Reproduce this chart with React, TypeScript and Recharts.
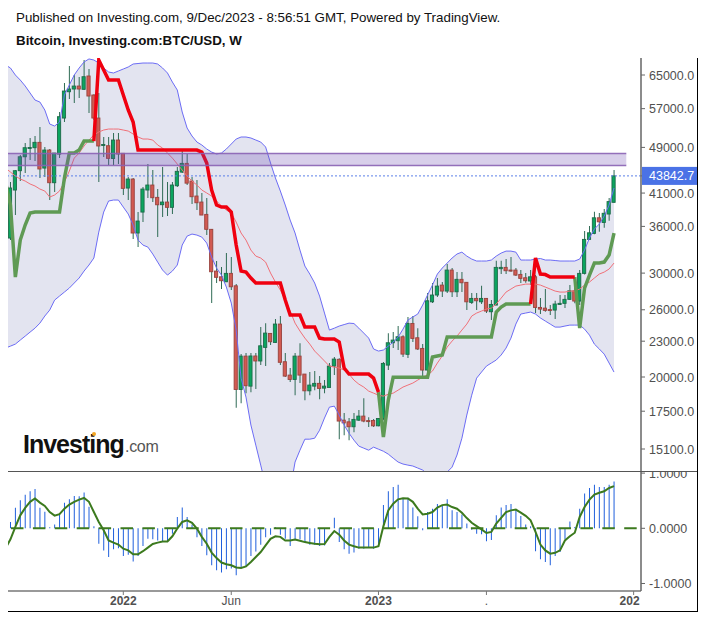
import React from 'react';
import { ComposedChart, Area, Bar, Line, XAxis, YAxis, ReferenceArea, ReferenceLine } from 'recharts';

const N = null;

// weekly BTC/USD candles
const opens = [
  34400, 41490, 44740, 47240, 48790, 48940, 49980, 45200, 48500, 42690,
  47740, 54950, 60890, 61540, 62260, 61470, 64750, 60120, 54950, 49370,
  49320, 46920, 50430, 47880, 41810, 43310, 35080, 38070, 41490, 42310,
  40320, 39180, 39590, 38780, 42190, 44500, 46040, 42970, 40530, 39590,
  37730, 35590, 30240, 29570, 29000, 29970, 28550, 19050, 21700, 19300,
  21710, 21290, 22450, 23710, 22890, 24590, 21230, 20150, 19810, 21700,
  20230, 18950, 19300, 19510, 19150, 19200, 20870, 21430, 16900, 16790,
  16470, 16900, 17170, 16870, 16880, 16530, 17010, 20950, 22860, 23040,
  23400, 21850, 24650, 23310, 22360, 20550, 26820, 27540, 28630, 27970,
  30360, 27890, 29280, 28940, 26760, 27180, 26820, 27180, 25800, 26480,
  30520, 30680, 30360, 30360, 29850, 29460, 29090, 29570, 26240, 26170,
  26020, 25970, 26550, 26660, 27080, 28000, 26900, 29970, 34220, 35030,
  37230, 36560, 37780, 39550,
];
const closes = [
  41820, 44740, 47240, 48940, 48980, 49980, 45040, 48500, 42690, 47930,
  55240, 61060, 61540, 62260, 61540, 64570, 59880, 54950, 49270, 49560,
  46950, 50430, 47750, 41760, 43310, 35080, 36760, 41650, 42310, 40260,
  39170, 39590, 38780, 42310, 44630, 46040, 42620, 40420, 39480, 37630,
  35590, 30160, 29510, 29120, 29970, 28440, 19050, 21700, 19330, 21710,
  21290, 22590, 23740, 22950, 24590, 21180, 20070, 19810, 21700, 20150,
  18950, 19380, 19510, 19130, 19300, 20870, 21450, 16840, 16720, 16470,
  16950, 17170, 16840, 16810, 16530, 17010, 21090, 22860, 23100, 23400,
  21870, 24650, 23250, 22310, 20550, 26930, 27540, 28520, 27970, 30360,
  27890, 29280, 28890, 26820, 27180, 26930, 27180, 25870, 26550, 30680,
  30680, 30280, 30240, 29770, 29390, 29120, 29570, 26240, 26070, 25940,
  25920, 26590, 26660, 27080, 28000, 26900, 29970, 34220, 35110, 37230,
  36650, 37890, 39660, 43842.7,
];
const highs = [
  42800, 44860, 47560, 49850, 50830, 51230, 53060, 49080, 48690, 47930,
  56250, 63000, 67320, 65000, 64490, 68920, 66540, 60300, 60590, 51030,
  51020, 51830, 51830, 47930, 43650, 43480, 38070, 41980, 45920, 44860,
  41650, 45390, 42810, 42810, 45390, 48310, 47750, 43650, 43140, 41010,
  40210, 35630, 31450, 30720, 32440, 31940, 28740, 21870, 21960, 21960,
  21960, 24300, 24680, 23740, 25080, 25370, 21960, 20710, 21960, 22820,
  20230, 20390, 20470, 20070, 19760, 21120, 21620, 21520, 17380, 17040,
  17380, 17580, 18410, 17100, 16970, 17050, 21200, 23730, 23830, 24400,
  23550, 25270, 25370, 24200, 22740, 27750, 28860, 29430, 28970, 31080,
  30600, 30120, 30120, 28970, 27750, 27750, 28550, 27210, 27000, 31480,
  31480, 31690, 31940, 30600, 30360, 30010, 30360, 29770, 27210, 28190,
  26480, 26930, 27540, 27540, 28630, 28440, 30360, 35350, 36050, 38110,
  37930, 38520, 40210, 44860,
];
const lows = [
  34130, 37630, 42970, 44340, 46640, 46460, 43480, 43650, 39900, 41170,
  47000, 54100, 59180, 58270, 59400, 61300, 56030, 54530, 42800, 47190,
  45740, 45740, 45920, 40690, 39900, 34260, 33210, 36610, 40210, 39590,
  34530, 37340, 37480, 37780, 41980, 44340, 42310, 39290, 38370, 37630,
  34800, 26690, 28860, 28190, 28970, 28080, 17730, 18060, 18780, 18850,
  19080, 20950, 20870, 22650, 22830, 20950, 20000, 19610, 18630, 19530,
  18270, 18630, 19000, 18340, 18780, 19230, 20150, 15690, 15940, 15630,
  16120, 16840, 16770, 16450, 16450, 16510, 16900, 20550, 22390, 22220,
  21620, 21540, 22920, 22220, 19840, 19990, 26690, 27320, 27320, 27760,
  27320, 27320, 27860, 25970, 26590, 25970, 26590, 25670, 24980, 26480,
  29890, 29890, 30150, 29660, 28860, 28890, 28630, 25670, 25570, 25800,
  25470, 25080, 26480, 26170, 27000, 26660, 26480, 29850, 34130, 34900,
  35250, 35810, 36800, 39490,
];

const upperBand = [
  66800, 65000, 63740, 62270, 60590, 58950, 58490, 56700, 53680, 53260,
  54100, 60120, 62510, 65000, 66800, 68390, 69200, 68920, 68110, 66800,
  65770, 65510, 66020, 66540, 67060, 67850, 67980, 68110, 68110, 68110,
  67850, 66800, 65510, 63240, 61300, 56260, 52850, 51230, 50040, 49460,
  48690, 48120, 47750, 47930, 48690, 49650, 50630, 51030, 51030, 50830,
  50430, 50040, 49080, 46100, 43480, 41330, 39130, 36900, 35080, 32820,
  30840, 29890, 28860, 27430, 25670, 24020, 24200, 24400, 24540, 24680,
  24640, 24200, 23740, 23280, 22310, 22130, 22220, 22560, 22920, 23370,
  24110, 24980, 25280, 25570, 26480, 27540, 28630, 29890, 30600, 31200,
  31820, 32320, 32560, 32060, 31690, 31450, 31450, 31450, 31570, 32060,
  32440, 32690, 32690, 32560, 31570, 31570, 31570, 31690, 31760, 31570,
  31570, 31510, 31450, 31450, 31450, 31450, 31690, 32820, 34400, 35630,
  36330, 37480, 39130, 41820,
];
const lowerBand = [
  22560, 22740, 23100, 23460, 23830, 24200, 24680, 25370, 25970, 27000,
  27430, 27860, 28300, 28860, 29430, 30240, 30960, 31820, 35210, 38070,
  39750, 39900, 39900, 38820, 37780, 36190, 34130, 33470, 33210, 32320,
  31320, 30360, 29770, 30240, 30960, 33470, 34660, 34940, 34800, 34530,
  33730, 31940, 30600, 29770, 28410, 26690, 24020, 19910, 18490, 16580,
  15330, 14180, 13110, 12370, 11900, 11900, 12130, 12860, 14350, 15030,
  15690, 15690, 15750, 16250, 17040, 17780, 17850, 17240, 16580, 16060,
  15630, 15270, 15150, 15030, 15210, 15090, 14970, 14800, 14570, 14350,
  14240, 14180, 14130, 14020, 13910, 13690, 13480, 13370, 13480, 13800,
  14070, 14750, 15750, 17240, 18630, 19910, 20390, 20870, 21120, 21370,
  21790, 22390, 23280, 24590, 25570, 25670, 25770, 25570, 25180, 24880,
  24590, 24300, 24300, 24400, 24490, 24490, 24490, 24110, 23550, 22740,
  22310, 21870, 21120, 20390,
];
const midBand = [
  44510, 43820, 43310, 42970, 42480, 42150, 41650, 41330, 40370, 40690,
  41330, 42810, 44680, 47000, 47930, 49270, 50430, 51430, 52030, 52440,
  52640, 52640, 52640, 52440, 52230, 51630, 51030, 50630, 50630, 50430,
  49460, 48880, 47930, 47000, 45920, 44860, 43820, 42970, 42310, 41490,
  41010, 40530, 39750, 38980, 38370, 37930, 36610, 35080, 34130, 32820,
  32060, 31820, 31320, 30010, 28970, 28080, 27000, 25870, 24680, 23930,
  23280, 22740, 22130, 21710, 21290, 20870, 20790, 20710, 20550, 20230,
  19760, 19450, 19230, 18930, 18780, 18630, 18560, 18700, 18780, 19000,
  19230, 19380, 19530, 19760, 19990, 20150, 20470, 21120, 21710, 22480,
  23010, 23460, 24020, 24590, 25370, 25670, 25870, 26070, 26170, 26590,
  27210, 27860, 28190, 28520, 28630, 28740, 28740, 28740, 28630, 28410,
  28190, 27970, 27860, 27860, 27970, 27970, 28190, 28630, 28970, 29430,
  29890, 30120, 30480, 31200,
];

// stop line, green while long, red while short
const stopUp = [
  39130, 29540, 34130, 36190, 37930, 38070, 38070, 38070, 38070, 38070,
  38070, 43480, 47930, 47930, 48500, 50230, 50230, 50230, N, N,
  N, N, N, N, N, N, N, N, N, N,
  N, N, N, N, N, N, N, N, N, N,
  N, N, N, N, N, N, N, N, N, N,
  N, N, N, N, N, N, N, N, N, N,
  N, N, N, N, N, N, N, N, N, N,
  N, N, N, N, N, 18850, 15820, 18270, 19990, 19990,
  19990, 19990, 19990, 19990, 19990, 19990, 21620, 21710, 21790, 23370,
  23370, 23370, 23370, 23370, 23370, 23370, 23370, 23370, 23370, 25770,
  26270, 26590, 26590, 26590, 26590, 26590, 26590, N, N, N,
  N, N, N, N, N, 29540, 24200, 28300, 29770, 31200,
  31200, 31320, 32190, 35080,
];
const stopDown = [
  N, N, N, N, N, N, N, N, N, N,
  N, N, N, N, N, N, N, 50230, 68920, 66280,
  63740, 63740, 63740, 60120, 56700, 54100, 48500, 48500, 48500, 48500,
  48500, 48500, 48500, 48500, 48500, 48500, 48500, 48500, 48500, 48120,
  46100, 41490, 39130, 38820, 38820, 38070, 33470, 30240, 30120, 29430,
  28860, 28860, 28860, 28860, 28860, 28860, 27000, 25470, 25470, 25470,
  24300, 24300, 24300, 23280, 23190, 23190, 23190, 22920, 20710, 20230,
  20230, 20230, 20230, 20230, 19910, 18850, N, N, N, N,
  N, N, N, N, N, N, N, N, N, N,
  N, N, N, N, N, N, N, N, N, N,
  N, N, N, N, N, N, 26590, 31820, 29890, 29830,
  29540, 29540, 29540, 29540, 29540, 29540, N, N, N, N,
  N, N, N, N,
];

const histogram = [
  0.115, 0.37, 0.51, 0.61, 0.67, 0.71, 0.37, 0.3, 0.02, 0.07,
  0.24, 0.465, 0.525, 0.585, 0.58, 0.65, 0.39, 0.035, -0.28, -0.4,
  -0.52, -0.38, -0.36, -0.5, -0.48, -0.6, -0.5, -0.32, -0.19, -0.2,
  -0.22, -0.25, -0.235, -0.1, 0.205, 0.375, 0.205, 0.07, -0.16, -0.32,
  -0.49, -0.67, -0.76, -0.8, -0.74, -0.73, -0.85, -0.72, -0.7, -0.5,
  -0.42, -0.3, -0.16, -0.115, 0.02, -0.115, -0.19, -0.32, -0.2, -0.2,
  -0.25, -0.3, -0.3, -0.32, -0.31, 0, 0.19, -0.25, -0.38, -0.46,
  -0.44, -0.37, -0.37, -0.34, -0.37, -0.31, 0.42, 0.67, 0.75, 0.79,
  0.54, 0.555, 0.375, 0.22, -0.035, 0.295, 0.355, 0.44, 0.42, 0.525,
  0.325, 0.295, 0.25, 0.085, -0.025, -0.1, -0.11, -0.235, -0.21, 0.235,
  0.375, 0.42, 0.44, 0.345, 0.225, 0.07, 0.035, -0.415, -0.56, -0.61,
  -0.67, -0.5, -0.43, -0.2, 0.125, 0.025, 0.355, 0.63, 0.73, 0.79,
  0.75, 0.75, 0.79, 0.85,
];
const signal = [
  -0.2, 0.025, 0.235, 0.37, 0.48, 0.54, 0.465, 0.405, 0.295, 0.23,
  0.255, 0.355, 0.43, 0.48, 0.52, 0.55, 0.48, 0.295, 0.115, -0.035,
  -0.22, -0.26, -0.295, -0.37, -0.4, -0.47, -0.47, -0.415, -0.35, -0.285,
  -0.26, -0.24, -0.24, -0.145, -0.005, 0.115, 0.145, 0.1, -0.005, -0.155,
  -0.28, -0.44, -0.54, -0.62, -0.65, -0.67, -0.71, -0.72, -0.69, -0.61,
  -0.52, -0.43, -0.31, -0.19, -0.145, -0.155, -0.22, -0.22, -0.205, -0.225,
  -0.25, -0.265, -0.28, -0.29, -0.285, -0.155, -0.05, -0.115, -0.22, -0.295,
  -0.325, -0.35, -0.35, -0.35, -0.35, -0.325, 0.035, 0.325, 0.445, 0.525,
  0.545, 0.54, 0.48, 0.355, 0.25, 0.265, 0.295, 0.375, 0.42, 0.43,
  0.385, 0.355, 0.28, 0.185, 0.1, 0.04, -0.02, -0.085, -0.065, 0.085,
  0.19, 0.295, 0.325, 0.34, 0.285, 0.225, 0.145, -0.065, -0.295, -0.4,
  -0.46, -0.445, -0.4, -0.22, -0.145, -0.08, 0.205, 0.385, 0.52, 0.61,
  0.645, 0.67, 0.73, 0.765,
];

// the week just before the left edge: only the lines run in from it, its candle is off screen
const leadingWeek = {
  week: -1,
  band: [22390, 67590],
  upper: 67590,
  lower: 22390,
  mid: 45200,
  stopUp: 42810,
  signal: -0.36,
};

const lastPrice = 43842.7;
const zoneTop = 47850;
const zoneBottom = 45660;
const zoneEdge = 130;
const zoneEndWeek = 125;
const blankWeeks = 5;
const priceTicks = [65000, 57000, 49000, lastPrice, 41000, 36000, 30000, 26000, 23000, 20000, 17500, 15100];
const macdTicks = [1, 0, -1];
const weekTicks = [23, 45, 75, 97, 127];
const weekTickLabels = ['2022', 'Jun', '2023', '.', '202'];
const boldTickLabels = ['2022', '2023', '202'];

const rows: any[] = [
  leadingWeek,
  ...Array.from({ length: closes.length + blankWeeks }, (_, week) => {
    if (week >= closes.length) return { week };
    return {
      week,
      open: opens[week],
      close: closes[week],
      wick: [lows[week], highs[week]],
      body: [Math.min(opens[week], closes[week]), Math.max(opens[week], closes[week])],
      band: [lowerBand[week], upperBand[week]],
      upper: upperBand[week],
      lower: lowerBand[week],
      mid: midBand[week],
      stopUp: stopUp[week],
      stopDown: stopDown[week],
      histogram: histogram[week],
      signal: signal[week],
    };
  }),
];

const FONT = '"Liberation Sans", Arial, sans-serif';
const AXIS_TEXT = '#505050';

const CandleBody = (props: any) => {
  const { x, y, width, height, payload } = props;
  const up = payload.close >= payload.open;
  return (
    <rect
      x={x + width / 2 - 1.6}
      y={y}
      width={3.2}
      height={Math.max(height, 1)}
      fill={up ? '#0ba55f' : '#d25a52'}
      stroke={up ? '#1d6a49' : '#98423d'}
      strokeWidth={0.9}
    />
  );
};

const PriceTick = (props: any) => {
  const { x, y, payload } = props;
  if (payload.value === lastPrice) {
    return (
      <g>
        <rect x={x - 7} y={y - 9} width={56} height={18} fill="#4a72e6" />
        <text x={x} y={y + 4.5} fontSize={12.5} fontFamily={FONT} fill="#fff">
          {lastPrice.toFixed(1)}
        </text>
      </g>
    );
  }
  return (
    <text x={x} y={y + 4.5} fontSize={12.5} fontFamily={FONT} fill={AXIS_TEXT}>
      {payload.value.toFixed(1)}
    </text>
  );
};

const MacdTick = (props: any) => {
  const { x, y, payload } = props;
  return (
    <text x={x} y={y + 4.5} fontSize={12.5} fontFamily={FONT} fill={AXIS_TEXT}>
      {payload.value.toFixed(4)}
    </text>
  );
};

const WeekTick = (props: any) => {
  const { x, y, payload } = props;
  const label = weekTickLabels[weekTicks.indexOf(payload.value)];
  const bold = boldTickLabels.includes(label);
  return (
    <text
      x={label === '202' ? x - 4 : x}
      y={y + 10}
      textAnchor="middle"
      fontSize={12}
      fontWeight={bold ? 700 : 400}
      fontFamily={FONT}
      fill={AXIS_TEXT}
    >
      {label}
    </text>
  );
};

const Logo = () => (
  <>
    <div
      style={{
        position: 'absolute', left: 23, top: 432, fontSize: 25, lineHeight: '25px', fontWeight: 700,
        letterSpacing: -1, color: '#111', fontFamily: FONT,
      }}
    >
      Investing
    </div>
    <div style={{ position: 'absolute', left: 92, top: 432, width: 4, height: 4, borderRadius: 2, background: '#f5a623' }} />
    <div
      style={{
        position: 'absolute', left: 125, top: 439, fontSize: 16, lineHeight: '16px', letterSpacing: -0.3,
        color: '#555', fontFamily: FONT,
      }}
    >
      .com
    </div>
  </>
);

export default function App() {
  return (
    <div style={{ position: 'absolute', left: 0, top: 0, width: 705, height: 617, background: '#fff', overflow: 'hidden' }}>
      <div style={{ position: 'absolute', left: 16, top: 10, fontSize: 13.33, lineHeight: '15px', color: '#111', fontFamily: FONT, whiteSpace: 'nowrap' }}>
        Published on Investing.com, 9/Dec/2023 - 8:56:51 GMT, Powered by TradingView.
      </div>
      <div style={{ position: 'absolute', left: 16, top: 33, fontSize: 13.33, lineHeight: '15px', fontWeight: 700, color: '#111', fontFamily: FONT, whiteSpace: 'nowrap' }}>
        Bitcoin, Investing.com:BTC/USD, W
      </div>

      <div style={{ position: 'absolute', left: 0, top: 0 }}>
        <ComposedChart width={705} height={471} data={rows} margin={{ top: 58, right: 8, bottom: 0, left: 3.09 }}>
          <XAxis dataKey="week" hide />
          <XAxis xAxisId="wicks" dataKey="week" hide />
          <YAxis
            orientation="right"
            width={56}
            scale="log"
            domain={[13858, 69460]}
            allowDataOverflow
            ticks={priceTicks}
            interval={0}
            tick={PriceTick}
            tickSize={4}
            tickMargin={4}
            axisLine={{ stroke: '#666', strokeWidth: 1.5 }}
            tickLine={{ stroke: '#666' }}
          />
          <Area dataKey="band" stroke="none" fill="#e3e4f0" fillOpacity={1} isAnimationActive={false} dot={false} activeDot={false} />
          <Line dataKey="upper" stroke="#6c6cf5" strokeWidth={1} dot={false} activeDot={false} isAnimationActive={false} />
          <Line dataKey="lower" stroke="#6c6cf5" strokeWidth={1} dot={false} activeDot={false} isAnimationActive={false} />
          <Line dataKey="mid" stroke="#f07078" strokeWidth={1} dot={false} activeDot={false} isAnimationActive={false} />
          <ReferenceLine y={lastPrice} stroke="#5b7fe8" strokeDasharray="2 2" strokeWidth={1} />
          <Bar xAxisId="wicks" dataKey="wick" barSize={1} fill="#2f6b55" isAnimationActive={false} />
          <Bar dataKey="body" barSize={4} shape={CandleBody} isAnimationActive={false} />
          <Line dataKey="stopUp" stroke="#5f9a54" strokeWidth={3.5} dot={false} activeDot={false} isAnimationActive={false} />
          <Line dataKey="stopDown" stroke="#f0000f" strokeWidth={3.5} dot={false} activeDot={false} isAnimationActive={false} />
          <ReferenceArea x2={zoneEndWeek} y1={zoneBottom} y2={zoneTop} fill="#6f4fb0" fillOpacity={0.27} stroke="none" zIndex={1000} />
          <ReferenceArea x2={zoneEndWeek} y1={zoneTop - zoneEdge} y2={zoneTop + zoneEdge} fill="#8a62b4" fillOpacity={0.9} stroke="none" zIndex={1000} />
          <ReferenceArea x2={zoneEndWeek} y1={zoneBottom - zoneEdge} y2={zoneBottom + zoneEdge} fill="#8a62b4" fillOpacity={0.9} stroke="none" zIndex={1000} />
        </ComposedChart>
      </div>

      <div style={{ position: 'absolute', left: 0, top: 471 }}>
        <ComposedChart width={705} height={140} data={rows} margin={{ top: 0.5, right: 8, bottom: 0, left: 3.09 }}>
          <XAxis
            dataKey="week"
            height={20}
            ticks={weekTicks}
            interval={0}
            tick={WeekTick}
            tickSize={4}
            tickMargin={0}
            axisLine={{ stroke: '#777', strokeWidth: 1.5 }}
            tickLine={{ stroke: '#777' }}
          />
          <YAxis
            orientation="right"
            width={56}
            domain={[-1.136, 1.029]}
            allowDataOverflow
            ticks={macdTicks}
            interval={0}
            tick={MacdTick}
            tickSize={4}
            tickMargin={4}
            axisLine={{ stroke: '#666', strokeWidth: 1.5 }}
            tickLine={{ stroke: '#666' }}
          />
          <Bar dataKey="histogram" barSize={1} fill="#1f5fdc" isAnimationActive={false} />
          <ReferenceLine y={0} stroke="#3c7a1e" strokeWidth={2} strokeDasharray="12.5 9.4" strokeDashoffset={-4.3} />
          <Line dataKey="signal" stroke="#3c7a1e" strokeWidth={2} dot={false} activeDot={false} isAnimationActive={false} />
        </ComposedChart>
      </div>

      {/* white strip left of the plot hides the run-in week */}
      <div style={{ position: 'absolute', left: 0, top: 50, width: 8, height: 567, background: '#fff' }} />
      <div style={{ position: 'absolute', left: 8, top: 470.5, width: 689, height: 1, background: '#555' }} />
      <div style={{ position: 'absolute', left: 697, top: 58, width: 1, height: 553.5, background: '#000' }} />
      <div style={{ position: 'absolute', left: 8, top: 611, width: 690, height: 1, background: '#000' }} />
      <Logo />
    </div>
  );
}
